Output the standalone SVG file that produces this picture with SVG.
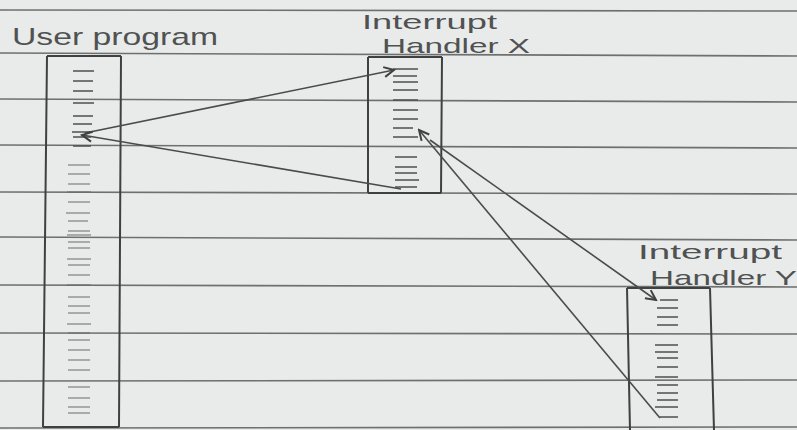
<svg xmlns="http://www.w3.org/2000/svg" width="797" height="430" viewBox="0 0 797 430">
<style>
.paper{fill:#e9ebea}
.rule{stroke:#6e7070;stroke-width:1.6;fill:none}
.box{stroke:#3f4141;stroke-width:2;fill:none}
.tick{stroke:#4e5050;stroke-width:1.4;fill:none}
.tick2{stroke:#6a6c6c;stroke-width:1.1;fill:none}
.conn{stroke:#4a4c4c;stroke-width:1.6;fill:none}
.lbl{font-family:"Liberation Sans","DejaVu Sans",sans-serif;font-size:21px;fill:#505252;font-weight:normal}
.lblb{font-family:"Liberation Sans","DejaVu Sans",sans-serif;font-size:24px;fill:#505252;font-weight:normal}
</style>
<defs>
<marker id="arr" viewBox="-12 -7 14 14" markerWidth="14" markerHeight="14" refX="0" refY="0" orient="auto" markerUnits="userSpaceOnUse">
<path d="M -10 -5 L 0 0 L -10 5" stroke="#3f4141" stroke-width="2" fill="none"/>
</marker>
</defs>
<rect class="paper" x="0" y="0" width="797" height="430"/>
<g id="ruled-lines">
<path class="rule" d="M0 10 L797 11 M0 53 L797 56 M0 99 L797 102 M0 145 L797 148 M0 192 L797 194 M0 237 L797 240 M0 285 L797 287 M0 333 L797 334 M0 381 L797 380 M0 428 L797 427"/>
</g>
<g id="user-program">
<text class="lblb" x="12" y="45" textLength="206" lengthAdjust="spacingAndGlyphs">User program</text>
<path class="box" d="M47 56 L121 56 M47 56 L43 427 M121 56 L119 427 M43 427 L119 427"/>
<path class="tick" d="M73 71 h21 M73 81 h20 M73 91 h20 M73 103 h21 M73 116 h20 M73 124 h19 M72 132 h20 M73 137 h18 M73 146 h18"/>
<path class="tick2" d="M68 165 h22 M68 174 h22 M68 184 h22 M67 192 h24 M68 202 h22 M66 213 h24 M68 221 h20 M68 231 h22 M67 235 h24 M68 242 h22 M68 248 h22 M67 259 h24 M68 265 h22 M68 275 h22 M67 285 h24 M68 297 h22 M68 306 h22 M68 313 h22 M67 324 h24 M68 333 h22 M68 340 h22 M68 350 h22 M68 360 h22 M68 370 h22 M68 387 h22 M68 398 h22 M68 407 h22 M68 413 h22"/>
</g>
<g id="handler-x">
<text class="lbl" x="362" y="29" textLength="135" lengthAdjust="spacingAndGlyphs">Interrupt</text>
<text class="lbl" x="382" y="53" textLength="148" lengthAdjust="spacingAndGlyphs">Handler X</text>
<path class="box" d="M368 57 L442 57 M368 57 L368 193 M442 57 L441 193 M368 193 L441 193"/>
<path class="tick" d="M393 69 h25 M393 76 h24 M393 82 h25 M393 90 h25 M393 100 h25 M393 110 h25 M393 119 h25 M393 128 h20 M393 137 h25 M395 157 h22 M395 167 h22 M395 173 h22 M395 180 h24 M395 187 h22"/>
</g>
<g id="handler-y">
<text class="lbl" x="638" y="259" textLength="144" lengthAdjust="spacingAndGlyphs">Interrupt</text>
<text class="lbl" x="650" y="285" textLength="147" lengthAdjust="spacingAndGlyphs">Handler Y</text>
<path class="box" d="M627 288 L710 288 M627 288 L630 430 M710 288 L714 430"/>
<path class="tick" d="M660 300 h18 M657 308 h21 M657 317 h21 M657 325 h21 M655 345 h23 M655 352 h23 M657 358 h21 M657 367 h21 M655 377 h23 M657 385 h21 M657 393 h21 M657 400 h21 M655 407 h23 M660 417 h18"/>
</g>
<g id="connectors">
<path class="conn" d="M85 133 L394 70" marker-end="url(#arr)"/>
<path class="conn" d="M401 189 L82 135" marker-end="url(#arr)"/>
<path class="conn" d="M660 418 L419 130" marker-end="url(#arr)"/>
<path class="conn" d="M430 140 L656 300" marker-end="url(#arr)"/>
</g>
</svg>
